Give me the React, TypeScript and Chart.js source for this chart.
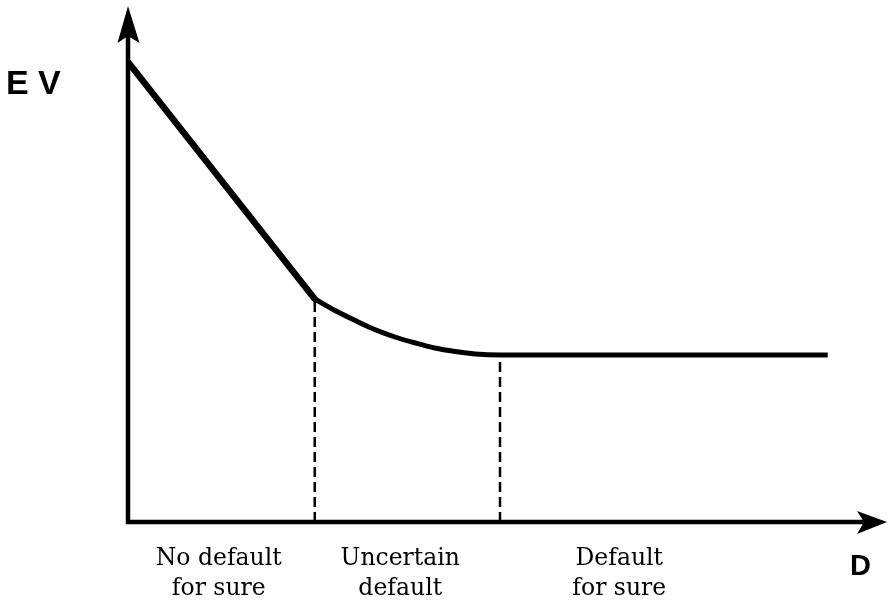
import React, { useEffect, useRef } from "react";
import { Chart, registerables } from "chart.js";

Chart.register(...registerables);

// Data (D on x, EV on y)
const steepX = [0, 24.9];
const steepY = [92, 44.6];
const curveX = [24.9, 27.6, 30.3, 32.9, 35.6, 38.3, 40.9, 43.6, 46.3, 49.6, 70, 93.3];
const curveY = [44.6, 42.3, 40.3, 38.5, 37.0, 35.8, 34.8, 34.1, 33.6, 33.4, 33.4, 33.4];
const boundaryX = [24.9, 49.6];
const boundaryY = [44.6, 33.4];
const regionCenters = [12.1, 36.3, 65.5];
const regionLabels = [
  ["No default", "for sure"],
  ["Uncertain", "default"],
  ["Default", "for sure"],
];
const yAxisLabel = "E V";
const xAxisLabel = "D";
const xArrowTip = 101.2;
const yArrowTip = 103.2;

const pts = (xs: number[], ys: number[]) => xs.map((x, i) => ({ x, y: ys[i] }));

const axesPlugin = {
  id: "axesPlugin",
  afterDraw(chart: any) {
    const { ctx, scales } = chart;
    const xs = scales.x;
    const ys = scales.y;
    const x0 = xs.getPixelForValue(0);
    const y0 = ys.getPixelForValue(0);
    const xt = xs.getPixelForValue(xArrowTip);
    const yt = ys.getPixelForValue(yArrowTip);
    ctx.save();
    ctx.strokeStyle = "#000";
    ctx.fillStyle = "#000";
    ctx.lineWidth = 4.5;
    ctx.lineCap = "butt";
    // y axis
    ctx.beginPath();
    ctx.moveTo(x0, y0 + 2);
    ctx.lineTo(x0, yt + 25);
    ctx.stroke();
    // x axis
    ctx.beginPath();
    ctx.moveTo(x0 - 2, y0);
    ctx.lineTo(xt - 20, y0);
    ctx.stroke();
    // y arrowhead
    ctx.beginPath();
    ctx.moveTo(x0, yt);
    ctx.lineTo(x0 + 11.5, yt + 37);
    ctx.lineTo(x0, yt + 30);
    ctx.lineTo(x0 - 10.5, yt + 37);
    ctx.closePath();
    ctx.fill();
    // x arrowhead
    ctx.beginPath();
    ctx.moveTo(xt, y0);
    ctx.lineTo(xt - 30, y0 - 11);
    ctx.lineTo(xt - 23, y0);
    ctx.lineTo(xt - 30, y0 + 12);
    ctx.closePath();
    ctx.fill();
    // axis labels
    ctx.font = "bold 34px 'Liberation Sans', Arial, sans-serif";
    ctx.textAlign = "left";
    ctx.textBaseline = "alphabetic";
    ctx.fillText(yAxisLabel, 6, 94);
    ctx.font = "bold 29px 'Liberation Sans', Arial, sans-serif";
    ctx.fillText(xAxisLabel, xt - 37, y0 + 53);
    // region labels
    ctx.font = "23.5px 'DejaVu Serif', serif";
    ctx.textAlign = "center";
    regionCenters.forEach((c, i) => {
      const px = xs.getPixelForValue(c);
      regionLabels[i].forEach((line, j) => {
        ctx.fillText(line, px, y0 + 43 + j * 30);
      });
    });
    ctx.restore();
  },
};

export default function App() {
  const ref = useRef<HTMLCanvasElement>(null);
  useEffect(() => {
    if (!ref.current) return;
    const chart = new Chart(ref.current, {
      type: "line",
      data: {
        datasets: [
          {
            data: pts(steepX, steepY),
            borderColor: "#000",
            borderWidth: 6.5,
            pointRadius: 0,
            tension: 0,
            borderCapStyle: "round",
            borderJoinStyle: "round",
          },
          {
            data: pts(curveX, curveY),
            borderColor: "#000",
            borderWidth: 5,
            pointRadius: 0,
            cubicInterpolationMode: "monotone",
            borderCapStyle: "butt",
          },
          ...boundaryX.map((bx, i) => ({
            data: [
              { x: bx, y: 0 },
              { x: bx, y: boundaryY[i] },
            ],
            borderColor: "#000",
            borderWidth: 2.5,
            borderDash: [10, 5],
            pointRadius: 0,
            tension: 0,
          })),
        ],
      },
      options: {
        animation: false,
        responsive: false,
        layout: { padding: { left: 128, right: 10, top: 22, bottom: 78 } },
        plugins: { legend: { display: false }, tooltip: { enabled: false } },
        scales: {
          x: { type: "linear", min: 0, max: 100, display: false },
          y: { type: "linear", min: 0, max: 100, display: false },
        },
      } as any,
      plugins: [axesPlugin],
    } as any);
    return () => chart.destroy();
  }, []);
  return (
    <div style={{ position: "absolute", left: 0, top: 0, width: 888, height: 600, background: "#fff" }}>
      <canvas ref={ref} width={888} height={600} />
    </div>
  );
}
